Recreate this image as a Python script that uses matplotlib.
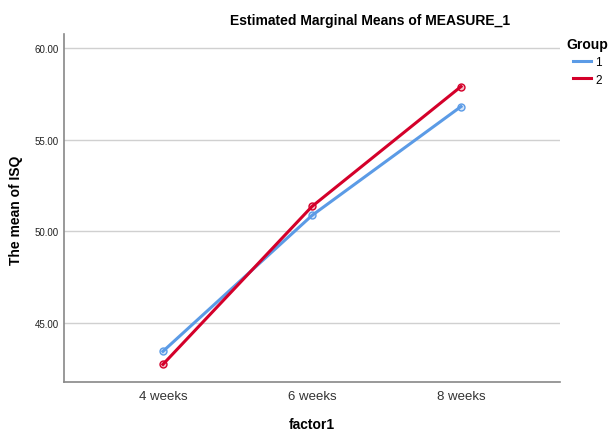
import matplotlib
matplotlib.use("Agg")
import matplotlib.pyplot as plt
from matplotlib.lines import Line2D

plt.rcParams["font.family"] = ["Liberation Sans", "DejaVu Sans"]

weeks = ["4 weeks", "6 weeks", "8 weeks"]
group_1 = [43.47, 50.87, 56.80]
group_2 = [42.76, 51.36, 57.89]
groups = ["1", "2"]
y_ticks = [45, 50, 55, 60]

colors = ["#5b9be6", "#d4002a"]

fig = plt.figure(figsize=(6.11, 4.31), dpi=100, facecolor="w")
ax = fig.add_axes([64 / 611, 1 - 383 / 431, (560 - 64) / 611, (383 - 35) / 431])

x = list(range(len(weeks)))
for vals, c in zip([group_1, group_2], colors):
    ax.plot(x, vals, "-", color=c, lw=2.2, zorder=3)
    ax.plot(x, vals, "o", ms=5, mfc=c + "40", mec=c, mew=1.0, zorder=4)

ax.set_xlim(-0.664, 2.664)
ax.set_ylim(41.8, 60.75)
ax.set_yticks(y_ticks)
ax.set_yticklabels([f"{v:.2f}" for v in y_ticks], fontsize=7, color="#222222")
ax.set_xticks(x)
ax.set_xticklabels(weeks, fontsize=9.5, color="#333333")
ax.tick_params(length=0, pad=6)
ax.tick_params(axis="y", pad=4)
ax.grid(axis="y", color="#d0d0d0", lw=1.0, zorder=0)
ax.set_axisbelow(True)
for s in ["top", "right"]:
    ax.spines[s].set_visible(False)
for s in ["left", "bottom"]:
    ax.spines[s].set_color("#888888")
    ax.spines[s].set_linewidth(1.2)

fig.text(16 / 611, 1 - 210 / 431, "The mean of ISQ", rotation=90, ha="center",
         va="center", fontsize=10, fontweight="bold")
fig.text(312 / 611, 1 - 425 / 431, "factor1", ha="center", va="center",
         fontsize=10, fontweight="bold")
fig.text(370 / 611, 1 - 21 / 431, "Estimated Marginal Means of MEASURE_1",
         ha="center", va="center", fontsize=10, fontweight="bold")

handles = [Line2D([0], [0], color=c, lw=2.2) for c in colors]
leg = fig.legend(handles, groups, title="Group", loc="upper right",
                 bbox_to_anchor=(608 / 611, 1 - 38 / 431), frameon=False,
                 fontsize=8.5, handlelength=1.6, handletextpad=0.3,
                 labelspacing=0.45, borderaxespad=0, borderpad=0)
leg.get_title().set_fontweight("bold")
leg.get_title().set_fontsize(10)
leg._legend_box.align = "center"

fig.savefig("out.png", dpi=100)
